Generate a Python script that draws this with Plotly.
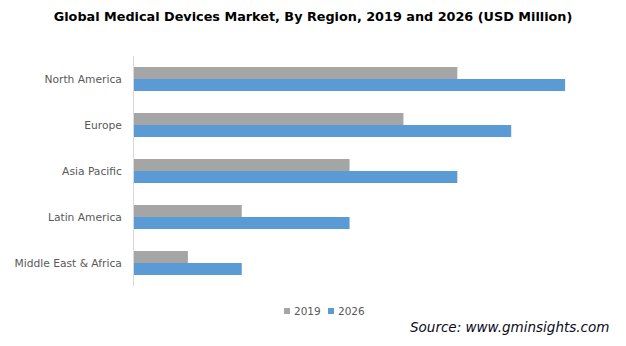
import plotly.graph_objects as go

# Regional market size (relative scale, axis values hidden)
regions = ["North America", "Europe", "Asia Pacific", "Latin America", "Middle East & Africa"]
values_2019 = [6, 5, 4, 2, 1]
values_2026 = [8, 7, 6, 4, 2]
series_names = ["2019", "2026"]

colors = ["#a5a5a5", "#5b9bd5"]

# plot area in pixels (used to place the hand-drawn legend and source note)
W, H = 626, 346
L, R, T, B = 134, 7, 56, 60
PW, PH = W - L - R, H - T - B


def px(x):
    return (x - L) / PW


def py(y):
    return (H - B - y) / PH


fig = go.Figure()
for name, vals, col in zip(series_names, [values_2019, values_2026], colors):
    fig.add_trace(go.Bar(
        y=regions, x=vals, name=name, orientation="h",
        marker=dict(color=col, line=dict(width=0)),
        hoverinfo="x+y+name", showlegend=False,
    ))

# compact legend: small square swatch followed by the series name
shapes = []
annotations = []
for name, col, x0 in zip(series_names, colors, [284, 328]):
    shapes.append(dict(
        type="rect", xref="paper", yref="paper",
        x0=px(x0), x1=px(x0 + 6), y0=py(314), y1=py(308),
        fillcolor=col, line=dict(width=0),
    ))
    annotations.append(dict(
        text=name, xref="paper", yref="paper", x=px(x0 + 7.5), xanchor="left",
        y=py(311), yanchor="middle", showarrow=False,
        font=dict(family="DejaVu Sans", size=10.5, color="#595959"),
    ))

annotations.append(dict(
    text="<i>Source: www.gminsights.com</i>",
    xref="paper", yref="paper", x=px(611), xanchor="right",
    y=py(327), yanchor="middle", showarrow=False,
    font=dict(family="DejaVu Sans", size=13.5, color="#0a0a1a"),
))

fig.update_layout(
    width=W, height=H,
    margin=dict(l=L, r=R, t=T, b=B),
    paper_bgcolor="white", plot_bgcolor="white",
    barmode="group", bargap=0.478, bargroupgap=0,
    title=dict(
        text="<b>Global Medical Devices Market, By Region, 2019 and 2026 (USD Million)</b>",
        x=0.5, xanchor="center", y=1 - 17 / H, yanchor="middle",
        font=dict(family="DejaVu Sans", size=12.8, color="#000000"),
    ),
    xaxis=dict(
        range=[0, 9], showgrid=False, zeroline=False, showticklabels=False,
        showline=False, fixedrange=True,
    ),
    yaxis=dict(
        autorange="reversed", showgrid=False, zeroline=False,
        showline=True, linecolor="#d9d9d9", linewidth=1,
        ticks="", ticklabelstandoff=9,
        tickfont=dict(family="DejaVu Sans", size=10.7, color="#595959"),
    ),
    shapes=shapes,
    annotations=annotations,
)

fig.write_html("out.html")
